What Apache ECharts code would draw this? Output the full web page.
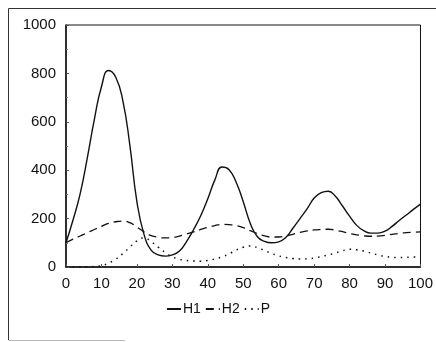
<!DOCTYPE html>
<html>
<head>
<meta charset="utf-8">
<script src="https://cdn.jsdelivr.net/npm/echarts@6/dist/echarts.min.js"></script>
<style>
  html, body { margin: 0; padding: 0; background: #fff; }
  #chart { width: 436px; height: 342px; }
</style>
</head>
<body>
<div id="chart"></div>
<script>
// x positions shared by all three curves
const xs = [0, 2, 4, 6, 8, 10, 12, 14, 16, 18, 20, 22, 24, 26, 28, 30, 32, 34, 36, 38, 40,
  42, 44, 46, 48, 50, 52, 54, 56, 58, 60, 62, 64, 66, 68, 70, 72, 74, 76, 78, 80,
  82, 84, 86, 88, 90, 92, 94, 96, 98, 100];

const h1 = [100, 195, 303, 450, 610, 745, 812, 785, 690, 505, 270, 135, 70, 50, 45, 50, 66, 105, 155, 212, 282,
  360, 413, 402, 350, 270, 180, 125, 106, 100, 104, 122, 160, 200, 240, 285, 307, 313, 292, 252, 210,
  172, 150, 140, 140, 148, 168, 192, 215, 238, 260];

const h2 = [100, 115, 128, 142, 155, 168, 180, 187, 190, 183, 165, 145, 130, 123, 120, 122, 128, 136, 145, 155, 164,
  171, 176, 175, 171, 163, 150, 138, 129, 124, 124, 128, 135, 143, 149, 153, 155, 156, 152, 146, 139,
  133, 129, 127, 128, 131, 135, 139, 142, 144, 145];

const p = [0, 0, 0, 1, 2, 5, 16, 32, 55, 82, 108, 120, 105, 82, 60, 42, 32, 27, 25, 24, 27,
  33, 42, 54, 70, 82, 87, 80, 68, 56, 46, 39, 35, 33, 34, 37, 43, 50, 58, 67, 73,
  71, 66, 58, 50, 44, 40, 39, 40, 41, 42];

const yTicks = [0, 200, 400, 600, 800, 1000];

function pairs(vals) {
  return xs.map((x, i) => [x, vals[i]]);
}

const chart = echarts.init(document.getElementById('chart'));
const font = 'Liberation Sans, Arial, sans-serif';

chart.setOption({
  animation: false,
  backgroundColor: '#fff',
  textStyle: { fontFamily: font },
  grid: {
    left: 66, right: 11, top: 25, bottom: 75,
    show: true, borderColor: '#111', borderWidth: 1
  },
  xAxis: {
    type: 'value', min: 0, max: 100, interval: 10,
    axisLine: { lineStyle: { color: '#111', width: 1.5 } },
    axisTick: { show: true, inside: true, length: 3, lineStyle: { color: '#555' } },
    splitLine: { show: false },
    axisLabel: { color: '#111', fontSize: 15, margin: 9, fontFamily: font }
  },
  yAxis: {
    type: 'value', min: 0, max: 1000, interval: 200,
    axisLine: { show: true, lineStyle: { color: '#111', width: 1.5 } },
    axisTick: { show: true, inside: true, length: 3, lineStyle: { color: '#555' } },
    minorTick: { show: true, splitNumber: 2, length: 2, lineStyle: { color: '#777' } },
    splitLine: { show: false },
    axisLabel: {
      color: '#111', fontSize: 15, margin: 10, fontFamily: font,
      formatter: v => (yTicks.indexOf(v) >= 0 ? String(v) : '')
    }
  },
  legend: {
    left: 'center', top: 297,
    itemWidth: 14, itemHeight: 8, itemGap: 4,
    itemStyle: { opacity: 0 },
    textStyle: { color: '#111', fontSize: 14, fontFamily: font, padding: [0, 0, 0, -3] },
    data: ['H1', 'H2', 'P']
  },
  graphic: [
    {
      type: 'polyline',
      shape: { points: [[436, 8.5], [8.5, 8.5], [8.5, 340]] },
      style: { stroke: '#333', lineWidth: 1, fill: null },
      silent: true
    },
    {
      type: 'line',
      shape: { x1: 8.5, y1: 340.5, x2: 125, y2: 340.5 },
      style: { stroke: '#bbb', lineWidth: 1 },
      silent: true
    }
  ],
  series: [
    {
      name: 'H1', type: 'line', data: pairs(h1), smooth: 0.5,
      symbol: 'none', lineStyle: { color: '#111', width: 1.4, type: 'solid' },
      itemStyle: { color: '#111' }
    },
    {
      name: 'H2', type: 'line', data: pairs(h2), smooth: 0.5,
      symbol: 'none', lineStyle: { color: '#111', width: 1.3, type: [8, 5] },
      itemStyle: { color: '#111' }
    },
    {
      name: 'P', type: 'line', data: pairs(p), smooth: 0.5,
      symbol: 'none', lineStyle: { color: '#111', width: 1.5, type: [1.5, 5] },
      itemStyle: { color: '#111' }
    }
  ]
});
</script>
</body>
</html>
